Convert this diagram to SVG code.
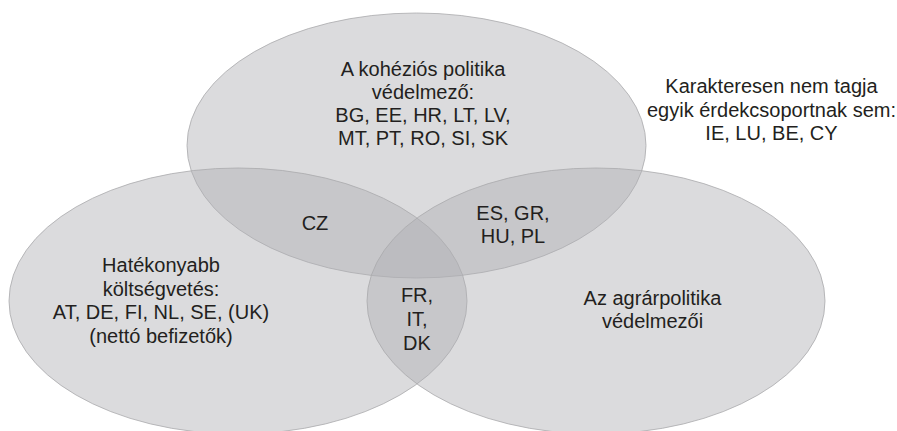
<svg xmlns="http://www.w3.org/2000/svg" width="897" height="431" viewBox="0 0 897 431">
<style>
.set{fill:#afb0b3;fill-opacity:0.45;stroke:#a9aaac;stroke-width:0.8}
.lbl{font-family:"Liberation Sans",Arial,sans-serif;font-size:20px;fill:#231f20;text-anchor:middle}
</style>
<rect width="897" height="431" fill="#ffffff"/>
<g id="set-cohesion">
<ellipse class="set" cx="416.5" cy="145.5" rx="229.5" ry="132.5"/>
</g>
<g id="set-budget">
<ellipse class="set" cx="238" cy="301" rx="229" ry="133"/>
</g>
<g id="set-agri">
<ellipse class="set" cx="596" cy="301" rx="229" ry="133"/>
</g>
<g id="label-cohesion">
<text class="lbl" x="423" y="76">A kohéziós politika</text>
<text class="lbl" x="423" y="99">védelmező:</text>
<text class="lbl" x="423" y="122">BG, EE, HR, LT, LV,</text>
<text class="lbl" x="423" y="145">MT, PT, RO, SI, SK</text>
</g>
<g id="label-budget">
<text class="lbl" x="161" y="272">Hatékonyabb</text>
<text class="lbl" x="161" y="295.5">költségvetés:</text>
<text class="lbl" x="161" y="319">AT, DE, FI, NL, SE, (UK)</text>
<text class="lbl" x="161" y="342.5">(nettó befizetők)</text>
</g>
<g id="label-agri">
<text class="lbl" x="652.5" y="305">Az agrárpolitika</text>
<text class="lbl" x="652.5" y="328">védelmezői</text>
</g>
<g id="label-cz">
<text class="lbl" x="315" y="230">CZ</text>
</g>
<g id="label-cohesion-agri">
<text class="lbl" x="513" y="220">ES, GR,</text>
<text class="lbl" x="513" y="243">HU, PL</text>
</g>
<g id="label-center">
<text class="lbl" x="417" y="302">FR,</text>
<text class="lbl" x="417" y="326">IT,</text>
<text class="lbl" x="417" y="350">DK</text>
</g>
<g id="label-none">
<text class="lbl" x="771.5" y="93">Karakteresen nem tagja</text>
<text class="lbl" x="771.5" y="116.5">egyik érdekcsoportnak sem:</text>
<text class="lbl" x="771.5" y="140">IE, LU, BE, CY</text>
</g>
</svg>
